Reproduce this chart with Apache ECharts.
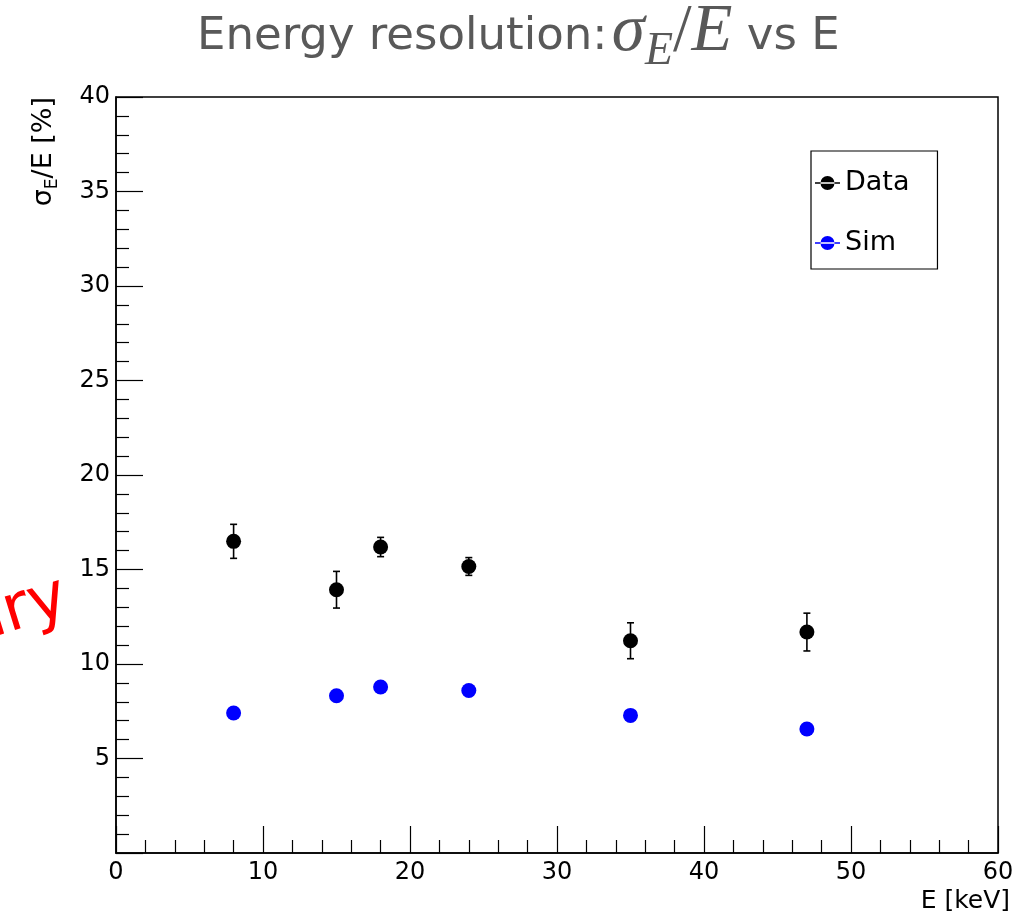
<!DOCTYPE html>
<html>
<head>
<meta charset="utf-8">
<script src="https://cdn.jsdelivr.net/npm/echarts@6/dist/echarts.min.js"></script>
<style>html,body{margin:0;padding:0;background:#fff;}#c{width:1031px;height:918px;}</style>
</head>
<body>
<div id="c"></div>
<script>
// ---- data ----
const energies = [8, 15, 18, 24, 35, 47];            // E [keV]
const dataRes  = [16.49, 13.93, 16.19, 15.16, 11.23, 11.69]; // sigma_E/E [%] (Data)
const dataErr  = [0.90, 0.97, 0.51, 0.47, 0.95, 1.00];        // error bars
const simRes   = [7.41, 8.32, 8.78, 8.60, 7.28, 6.56];        // sigma_E/E [%] (Sim)
const xTicks = [0, 10, 20, 30, 40, 50, 60];
const yTicks = [5, 10, 15, 20, 25, 30, 35, 40];

const chart = echarts.init(document.getElementById('c'), null, {renderer: 'canvas'});

const dataPts = energies.map((e, i) => [e, dataRes[i]]);
const simPts  = energies.map((e, i) => [e, simRes[i]]);
const errPts  = energies.map((e, i) => [e, dataRes[i] - dataErr[i], dataRes[i] + dataErr[i]]);

const iconPath = 'path://M0,6.3H25V7.7H0Z M5.5,7A7,7 0 1 0 19.5,7A7,7 0 1 0 5.5,7Z';
const sans = 'DejaVu Sans';
const grey = '#595959';

chart.setOption({
  backgroundColor: '#ffffff',
  animation: false,
  title: {
    text: '{a|Energy resolution:}{g| }{m|σ}{s|E}{u|/}{m|E}{a| vs E}',
    left: 197, top: -1, padding: 0,
    textStyle: {
      fontWeight: 'normal',
      rich: {
        a: {fontFamily: sans, fontWeight: 'normal', fontSize: 45, color: grey, lineHeight: 76},
        g: {fontFamily: sans, fontWeight: 'normal', fontSize: 14, color: grey, lineHeight: 76},
        m: {fontFamily: 'Liberation Serif', fontWeight: 'normal', fontStyle: 'italic', fontSize: 67, color: grey, lineHeight: 71, verticalAlign: 'top'},
        u: {fontFamily: 'Liberation Serif', fontWeight: 'normal', fontSize: 67, color: grey, lineHeight: 71, verticalAlign: 'top'},
        s: {fontFamily: 'Liberation Serif', fontWeight: 'normal', fontStyle: 'italic', fontSize: 46, color: grey, lineHeight: 46, verticalAlign: 'bottom'}
      }
    }
  },
  legend: {
    orient: 'vertical',
    left: 811, top: 151,
    padding: [17, 28, 11, 4],
    itemGap: 30,
    itemWidth: 25, itemHeight: 14,
    borderColor: '#000', borderWidth: 1.2,
    backgroundColor: '#fff',
    textStyle: {fontFamily: sans, fontSize: 27, color: '#000', lineHeight: 30},
    data: [
      {name: 'Data', icon: iconPath},
      {name: 'Sim', icon: iconPath}
    ]
  },
  grid: {
    left: 116, right: 33, top: 97, bottom: 65,
    show: true, borderColor: '#000', borderWidth: 1.5, backgroundColor: 'transparent'
  },
  xAxis: {
    type: 'value', min: xTicks[0], max: xTicks[xTicks.length - 1], interval: 10,
    name: 'E [keV]', nameLocation: 'end', nameGap: 12,
    nameTextStyle: {fontFamily: sans, fontSize: 25, color: '#000', align: 'right', verticalAlign: 'top', padding: [36, 0, 0, 0]},
    axisLine: {show: true, lineStyle: {color: '#000', width: 1.5}},
    axisTick: {show: true, inside: true, length: 27, lineStyle: {color: '#000', width: 1.2}},
    minorTick: {show: true, splitNumber: 5, length: 13, lineStyle: {color: '#000', width: 1.2}},
    axisLabel: {fontFamily: sans, fontSize: 24, color: '#000', margin: 8},
    splitLine: {show: false}
  },
  yAxis: {
    type: 'value', min: 0, max: yTicks[yTicks.length - 1], interval: 5,
    axisLine: {show: true, lineStyle: {color: '#000', width: 1.5}},
    axisTick: {show: true, inside: true, length: 27, lineStyle: {color: '#000', width: 1.2}},
    minorTick: {show: true, splitNumber: 5, length: 13, lineStyle: {color: '#000', width: 1.2}},
    axisLabel: {fontFamily: sans, fontSize: 24, color: '#000', margin: 6, showMinLabel: false,
      formatter: v => (yTicks.indexOf(v) >= 0 ? String(v) : '')},
    splitLine: {show: false}
  },
  graphic: [
    {
      type: 'text', x: 44, y: 97, rotation: Math.PI / 2,
      style: {
        text: '{a|σ}{s|E}{a|/E [%]}',
        textAlign: 'right', textVerticalAlign: 'middle',
        rich: {
          a: {fontFamily: sans, fontSize: 27, fill: '#000', lineHeight: 34},
          s: {fontFamily: sans, fontSize: 17, fill: '#000', lineHeight: 17, verticalAlign: 'bottom'}
        }
      }
    },
    {
      type: 'text', x: 66, y: 597, rotation: 0.3,
      style: {
        text: 'Preliminary', textAlign: 'right', textVerticalAlign: 'middle',
        fontFamily: sans, fontSize: 64, fill: '#ff0000'
      }
    }
  ],
  series: [
    {
      name: 'DataErr', type: 'custom', z: 2,
      renderItem: function (params, api) {
        const x = api.value(0);
        const p1 = api.coord([x, api.value(1)]);
        const p2 = api.coord([x, api.value(2)]);
        const c = 3.5;
        const st = {stroke: '#000', lineWidth: 1.6};
        return {
          type: 'group',
          children: [
            {type: 'line', shape: {x1: p1[0], y1: p1[1], x2: p2[0], y2: p2[1]}, style: st},
            {type: 'line', shape: {x1: p1[0] - c, y1: p1[1], x2: p1[0] + c, y2: p1[1]}, style: st},
            {type: 'line', shape: {x1: p2[0] - c, y1: p2[1], x2: p2[0] + c, y2: p2[1]}, style: st}
          ]
        };
      },
      encode: {x: 0, y: [1, 2]},
      data: errPts
    },
    {
      name: 'Data', type: 'scatter', z: 3, symbol: 'circle', symbolSize: 15,
      itemStyle: {color: '#000', opacity: 1},
      data: dataPts
    },
    {
      name: 'Sim', type: 'scatter', z: 3, symbol: 'circle', symbolSize: 15,
      itemStyle: {color: '#0000ff', opacity: 1},
      data: simPts
    }
  ]
});
</script>
</body>
</html>
